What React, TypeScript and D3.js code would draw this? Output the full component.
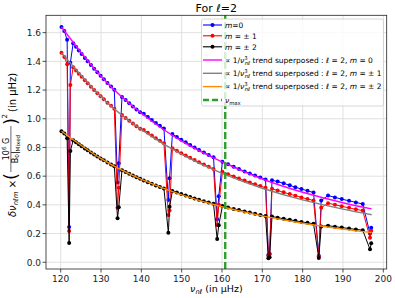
import * as d3 from 'd3';

// mixed-mode frequencies (µHz), shared by the three azimuthal orders
const nuMixed = [
  120.2, 120.9, 121.6, 122.1, 122.4, 123.1, 123.8, 124.5, 125.2, 126.0, 126.7, 127.5, 128.3, 129.1, 129.9,
  130.7, 131.6, 132.5, 133.3, 134.1, 134.4, 135.2, 136.1, 137.0, 137.9, 138.8, 139.7, 140.6, 141.6, 142.6,
  143.6, 144.6, 145.6, 146.7, 147.0, 147.7, 148.8, 149.9, 151.0, 152.1, 153.2, 154.3, 155.5, 156.7, 157.9,
  158.8, 159.2, 160.1, 161.5, 162.9, 164.2, 165.6, 166.9, 168.2, 169.5, 170.8, 171.5, 171.8, 172.4, 173.8,
  175.3, 176.8, 178.2, 179.7, 181.2, 182.7, 184.0, 184.6, 186.3, 188.0, 189.7, 191.5, 193.2, 194.9, 196.7,
  197.0,
];
const splitM0 = [
  1.64, 1.612, 1.55, 0.246, 1.39, 1.527, 1.501, 1.476, 1.451, 1.424, 1.4, 1.374, 1.349, 1.324, 1.299,
  1.276, 1.25, 1.224, 1.202, 0.555, 0.69, 1.152, 1.13, 1.108, 1.086, 1.065, 1.045, 1.035, 1.013, 0.992,
  0.971, 0.951, 0.932, 0.434, 0.585, 0.893, 0.873, 0.854, 0.836, 0.818, 0.8, 0.783, 0.765, 0.748, 0.731,
  0.3, 0.46, 0.701, 0.683, 0.665, 0.65, 0.633, 0.619, 0.604, 0.591, 0.577, 0.05, 0.06, 0.572, 0.562,
  0.55, 0.536, 0.523, 0.51, 0.498, 0.486, 0.045, 0.43, 0.465, 0.452, 0.44, 0.428, 0.417, 0.406, 0.2,
  0.24,
];
const splitM1 = [
  1.46, 1.43, 1.38, 0.218, 1.235, 1.359, 1.336, 1.314, 1.292, 1.268, 1.247, 1.223, 1.201, 1.178, 1.157,
  1.136, 1.112, 1.09, 1.07, 0.38, 0.52, 1.026, 1.006, 0.986, 0.967, 0.948, 0.93, 0.921, 0.902, 0.883,
  0.865, 0.847, 0.83, 0.33, 0.36, 0.795, 0.777, 0.76, 0.744, 0.728, 0.712, 0.697, 0.681, 0.666, 0.65,
  0.26, 0.4, 0.63, 0.614, 0.598, 0.584, 0.569, 0.556, 0.543, 0.531, 0.519, 0.045, 0.055, 0.512, 0.5,
  0.487, 0.475, 0.464, 0.452, 0.441, 0.43, 0.04, 0.38, 0.412, 0.401, 0.39, 0.379, 0.369, 0.36, 0.17,
  0.22,
];
const splitM2 = [
  0.913, 0.897, 0.864, 0.134, 0.776, 0.85, 0.836, 0.822, 0.808, 0.793, 0.78, 0.765, 0.751, 0.737, 0.723,
  0.71, 0.696, 0.682, 0.669, 0.307, 0.383, 0.642, 0.629, 0.617, 0.605, 0.593, 0.582, 0.57, 0.558, 0.547,
  0.535, 0.524, 0.514, 0.206, 0.387, 0.497, 0.486, 0.475, 0.465, 0.455, 0.445, 0.436, 0.426, 0.416, 0.407,
  0.162, 0.258, 0.392, 0.382, 0.372, 0.364, 0.354, 0.346, 0.338, 0.33, 0.323, 0.028, 0.035, 0.319, 0.311,
  0.303, 0.296, 0.289, 0.281, 0.275, 0.268, 0.03, 0.25, 0.255, 0.248, 0.242, 0.235, 0.229, 0.223, 0.09,
  0.132,
];

// 1/nu^3 trends
const trendNu = [120.2, 130, 140, 150, 160, 170, 180, 190, 197.1];
const trendM0 = [1.64, 1.296, 1.038, 0.844, 0.7, 0.58, 0.488, 0.415, 0.372];
const trendM1 = [1.46, 1.154, 0.924, 0.751, 0.619, 0.516, 0.435, 0.37, 0.331];
const trendM2 = [0.913, 0.722, 0.578, 0.47, 0.387, 0.323, 0.272, 0.231, 0.207];

const nuMax = 160.8;
const xTicks = [120, 130, 140, 150, 160, 170, 180, 190, 200];
const yTicks = [0, 0.2, 0.4, 0.6, 0.8, 1.0, 1.2, 1.4, 1.6];

const W = 395;
const H = 298;
const FONT = 'DejaVu Sans';

const x = d3.scaleLinear().domain([116.36, 200.84]).range([46, 386.7]);
const y = d3.scaleLinear().domain([-0.047, 1.721]).range([269, 15.3]);

const seriesLine = d3
  .line<number>()
  .x((_, i) => x(nuMixed[i]))
  .y((d) => y(d));

const trendLine = d3
  .line<number>()
  .x((_, i) => x(trendNu[i]))
  .y((d) => y(d))
  .curve(d3.curveNatural);

const series = [
  { vals: splitM0, color: '#0000ff' },
  { vals: splitM1, color: '#ff0000' },
  { vals: splitM2, color: '#000000' },
];
const trends = [
  { vals: trendM0, color: '#ff00ff' },
  { vals: trendM1, color: '#808080' },
  { vals: trendM2, color: '#ff8c00' },
];

const Legend = () => {
  const lx = 202;
  const rows = [25, 35.8, 46.8, 60, 73.3, 86.6, 100];
  const fs = 7.5;
  const trendText = (mPart: string) => (
    <>
      ∝ 1/<tspan fontStyle="italic">ν</tspan>
      <tspan fontSize={5.3} dy={-3.2}>3</tspan>
      <tspan fontSize={5.3} fontStyle="italic" dx={-3} dy={5.2}>nℓ</tspan>
      <tspan dy={-2}> trend superposed : </tspan>
      <tspan fontStyle="italic">ℓ</tspan> = 2, <tspan fontStyle="italic">m</tspan>
      {mPart}
    </>
  );
  return (
    <g fontFamily={FONT} fontSize={fs}>
      <rect x={lx - 0.5} y={19} width={182} height={87} rx={2} fill="#fff" fillOpacity={0.8} stroke="#cccccc" strokeWidth={0.8} />
      {series.map((s, i) => (
        <g key={i}>
          <line x1={lx + 1} x2={lx + 20} y1={rows[i]} y2={rows[i]} stroke={s.color} strokeWidth={1.1} />
          <circle cx={lx + 10.5} cy={rows[i]} r={2} fill={s.color} />
        </g>
      ))}
      {trends.map((t, i) => (
        <line key={i} x1={lx + 1} x2={lx + 20} y1={rows[3 + i]} y2={rows[3 + i]} stroke={t.color} strokeWidth={1.4} />
      ))}
      <line x1={lx + 1} x2={lx + 20} y1={rows[6]} y2={rows[6]} stroke="#2ca02c" strokeWidth={2.4} strokeDasharray="6,3" />
      <text x={lx + 23} y={rows[0] + 2.7}>
        <tspan fontStyle="italic">m</tspan>=0
      </text>
      <text x={lx + 23} y={rows[1] + 2.7}>
        <tspan fontStyle="italic">m</tspan> = ± 1
      </text>
      <text x={lx + 23} y={rows[2] + 2.7}>
        <tspan fontStyle="italic">m</tspan> = ± 2
      </text>
      <text x={lx + 23} y={rows[3] + 2.7}>{trendText(' = 0')}</text>
      <text x={lx + 23} y={rows[4] + 2.7}>{trendText(' = ± 1')}</text>
      <text x={lx + 23} y={rows[5] + 2.7}>{trendText(' = ± 2')}</text>
      <text x={lx + 23} y={rows[6] + 2.7}>
        <tspan fontStyle="italic">ν</tspan>
        <tspan fontSize={5.3} dy={1.8}>max</tspan>
      </text>
    </g>
  );
};

const App = () => {
  const [x0, x1] = x.range();
  const [y0, y1] = y.range();
  return (
    <div style={{ position: 'absolute', left: 0, top: 0 }}>
      <svg width={W} height={H} style={{ display: 'block' }}>
        <rect width={W} height={H} fill="#fff" />
        {/* grid */}
        <g stroke="#dcdcdc" strokeWidth={0.9}>
          {xTicks.map((t) => (
            <line key={t} x1={x(t)} x2={x(t)} y1={y0} y2={y1} />
          ))}
          {yTicks.map((t) => (
            <line key={t} x1={x0} x2={x1} y1={y(t)} y2={y(t)} />
          ))}
        </g>

        {/* data */}
        {series.map((s, i) => (
          <g key={i}>
            <path d={seriesLine(s.vals) ?? ''} fill="none" stroke={s.color} strokeWidth={1} />
            {s.vals.map((v, j) => (
              <circle key={j} cx={x(nuMixed[j])} cy={y(v)} r={2} fill={s.color} />
            ))}
          </g>
        ))}
        {trends.map((t, i) => (
          <path key={i} d={trendLine(t.vals) ?? ''} fill="none" stroke={t.color} strokeWidth={1.4} />
        ))}
        <line x1={x(nuMax)} x2={x(nuMax)} y1={y0} y2={y1} stroke="#2ca02c" strokeWidth={2.4} strokeDasharray="7,3" />

        <Legend />

        {/* frame */}
        <rect x={x0} y={y1} width={x1 - x0} height={y0 - y1} fill="none" stroke="#222" strokeWidth={0.8} />

        {/* ticks */}
        <g fontFamily={FONT} fontSize={9} fill="#222">
          {xTicks.map((t) => (
            <g key={t}>
              <line x1={x(t)} x2={x(t)} y1={y0} y2={y0 + 3.5} stroke="#222" strokeWidth={0.8} />
              <text x={x(t)} y={y0 + 12.5} textAnchor="middle">
                {t}
              </text>
            </g>
          ))}
          {yTicks.map((t) => (
            <g key={t}>
              <line x1={x0 - 3.5} x2={x0} y1={y(t)} y2={y(t)} stroke="#222" strokeWidth={0.8} />
              <text x={x0 - 5} y={y(t) + 3.3} textAnchor="end">
                {d3.format('.1f')(t)}
              </text>
            </g>
          ))}
        </g>

        {/* title */}
        <text x={(x0 + x1) / 2} y={12} textAnchor="middle" fontFamily={FONT} fontSize={11}>
          For <tspan fontStyle="italic">ℓ</tspan>=2
        </text>

        {/* x label */}
        <text x={(x0 + x1) / 2} y={292} textAnchor="middle" fontFamily={FONT} fontSize={9.5}>
          <tspan fontStyle="italic">ν</tspan>
          <tspan fontSize={6.6} fontStyle="italic" dy={2.2}>nℓ</tspan>
          <tspan dy={-2.2}> (in μHz)</tspan>
        </text>

        {/* y label */}
        <g transform="translate(15.5,143) rotate(-90)" fontFamily={FONT} fontSize={10}>
          <text x={-74} y={0}>
            <tspan fontStyle="italic">δν</tspan>
            <tspan fontSize={6.8} fontStyle="italic" dy={2.4}>nℓm</tspan>
            <tspan dy={-2.4}> ×</tspan>
          </text>
          <text x={-37} y={1.5} fontSize={18}>(</text>
          <text x={-6} y={-6.5} fontSize={8} textAnchor="middle">
            10<tspan fontSize={5.6} dy={-3}>6</tspan>
            <tspan dy={3}> G</tspan>
          </text>
          <line x1={-29} x2={17} y1={-4.6} y2={-4.6} stroke="#000" strokeWidth={0.6} />
          <text x={-6} y={2.3} fontSize={8} textAnchor="middle">
            B<tspan fontSize={5.6} dy={1.5}>0</tspan>
            <tspan dy={-1.5}>|</tspan>
            <tspan fontSize={5.6} dy={1.8}>Mixed</tspan>
          </text>
          <text x={18} y={1.5} fontSize={18}>)</text>
          <text x={24.5} y={-8.5} fontSize={7}>2</text>
          <text x={31} y={0}>(in μHz)</text>
        </g>
      </svg>
    </div>
  );
};

export default App;
